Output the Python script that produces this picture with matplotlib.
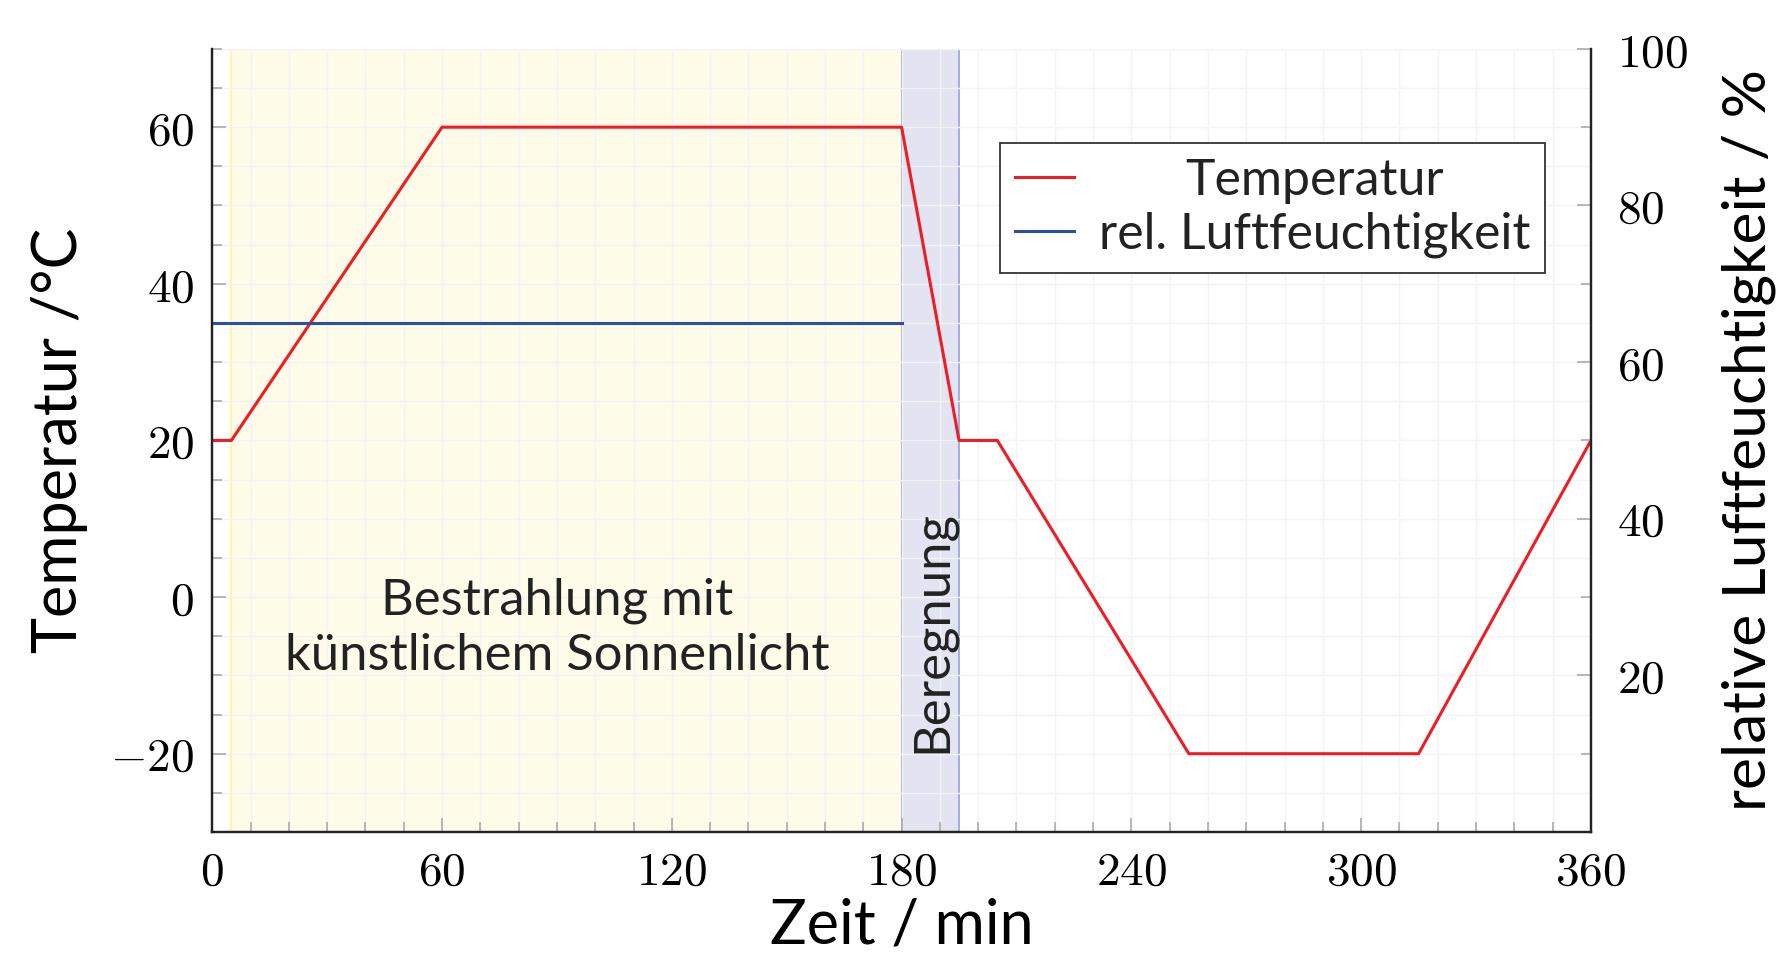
import numpy as np
import matplotlib
matplotlib.use("Agg")
import matplotlib.pyplot as plt
from matplotlib.ticker import MultipleLocator, FuncFormatter

# temperature programme and humidity
time_temp = [0, 5, 60, 180, 195, 205, 255, 315, 360]
temp = [20, 20, 60, 60, 20, 20, -20, -20, 20]
time_rh = [0, 180]
rh = [65, 65]

# phases (start, end) in minutes
irradiation = (5, 180)
rain = (180, 195)

sans = ["Lato", "DejaVu Sans"]
plt.rcParams["mathtext.fontset"] = "cm"

fig = plt.figure(figsize=(17.79, 9.58), dpi=100)
ax = fig.add_axes([0.1193, 0.1315, 0.775, 0.8175])
ax2 = ax.twinx()

ax.axvspan(*irradiation, facecolor="#fefbe8", edgecolor="#fff3a0", lw=1.2, zorder=0.5)
ax.axvspan(*rain, facecolor="#e2e4f2", edgecolor="#9aa0dc", lw=1.2, zorder=0.5)

red = "#ee1c25"
blue = "#2e4fa0"
l1, = ax.plot(time_temp, temp, color=red, lw=2.2, label="Temperatur")
l2, = ax2.plot(time_rh, rh, color=blue, lw=2.2, label="rel. Luftfeuchtigkeit")

ax.set_xlim(0, 360)
ax.set_ylim(-30, 70)
ax2.set_ylim(0, 100)

fmt = FuncFormatter(lambda v, p: f"${v:g}$")
ax.xaxis.set_major_locator(MultipleLocator(60))
ax.xaxis.set_minor_locator(MultipleLocator(10))
ax.yaxis.set_major_locator(MultipleLocator(20))
ax.yaxis.set_minor_locator(MultipleLocator(5))
ax2.yaxis.set_major_locator(MultipleLocator(20))
ax2.yaxis.set_minor_locator(MultipleLocator(10))
ax.xaxis.set_major_formatter(fmt)
ax.yaxis.set_major_formatter(fmt)
ax2.yaxis.set_major_formatter(FuncFormatter(lambda v, p: f"${v:g}$" if v > 0 else ""))

ax.grid(True, which="both", color="#f3f3f3", lw=1.0)

for a in (ax, ax2):
    a.tick_params(which="both", direction="in", color="#aaaaaa", width=1.2,
                  labelsize=34)
    a.tick_params(which="major", length=10)
    a.tick_params(which="minor", length=7)
    a.spines["top"].set_visible(False)
    for s in ("left", "right", "bottom"):
        a.spines[s].set_linewidth(1.6)
        a.spines[s].set_color("#222222")
ax.tick_params(axis="x", which="both", top=False, pad=13)
ax.tick_params(axis="y", which="both", right=False, pad=13)
ax2.tick_params(axis="y", which="both", left=False, pad=19)

ax.set_xlabel("Zeit / min", family=sans, fontsize=44, labelpad=2)
ax.set_ylabel("Temperatur /°C", family=sans, fontsize=44, labelpad=16)
ax2.set_ylabel("relative Luftfeuchtigkeit / %", family=sans, fontsize=43.5, labelpad=24)

ax.text(90, -4, "Bestrahlung mit\nkünstlichem Sonnenlicht", family=sans, fontsize=36.5,
        ha="center", va="center", linespacing=1.25, color="#222222")
ax.text(188, -4.4, "Beregnung", family=sans, fontsize=36.5, rotation=90,
        ha="center", va="center", color="#222222")

leg = ax2.legend(handles=[l1, l2], loc="upper right", bbox_to_anchor=(0.967, 0.880),
                 borderaxespad=0, fancybox=False, framealpha=1, edgecolor="#333333",
                 prop={"family": sans, "size": 36}, handlelength=1.17,
                 handletextpad=0.5, labelspacing=0.15, borderpad=0.3)
leg.get_frame().set_linewidth(1.3)
for t in leg.get_texts():
    t.set_color("#222222")

# centre "Temperatur" over the longer label, as in the original
fig.canvas.draw()
r = fig.canvas.get_renderer()
w = [t.get_window_extent(r).width for t in leg.get_texts()]
leg.get_texts()[0].set_position(((w[1] - w[0]) / 2, 0))

fig.savefig("out.png", dpi=100)
